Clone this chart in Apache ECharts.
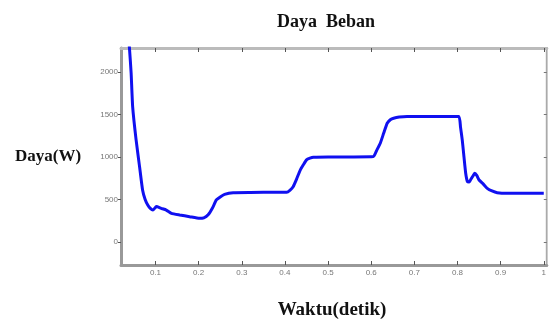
<!DOCTYPE html>
<html>
<head>
<meta charset="utf-8">
<script src="https://cdn.jsdelivr.net/npm/echarts@6/dist/echarts.min.js"></script>
<style>html,body{margin:0;padding:0;background:#fff;}#c{width:549px;height:320px;}</style>
</head>
<body>
<div id="c"></div>
<script>
var titleText = 'Daya  Beban';
var xName = 'Waktu(detik)';
var yName = 'Daya(W)';
var xTicks = [0.1, 0.2, 0.3, 0.4, 0.5, 0.6, 0.7, 0.8, 0.9, 1];
var xTickLabels = ['0.1', '0.2', '0.3', '0.4', '0.5', '0.6', '0.7', '0.8', '0.9', '1'];
var yTicks = [0, 500, 1000, 1500, 2000];
var time = [0.030,0.036,0.040,0.0435,0.047,0.055,0.063,0.070,0.076,0.082,0.088,0.094,0.102,0.113,0.125,0.137,0.156,0.179,0.202,0.212,0.222,0.232,0.241,0.250,0.260,0.280,0.320,0.380,0.404,0.412,0.419,0.427,0.435,0.443,0.450,0.458,0.466,0.500,0.560,0.605,0.613,0.621,0.629,0.637,0.645,0.652,0.665,0.683,0.750,0.803,0.807,0.811,0.815,0.819,0.823,0.827,0.830,0.835,0.840,0.845,0.850,0.860,0.869,0.880,0.892,0.916,0.950,1.0];
var power = [2700,2500,2250,1985,1592,1200,886,612,500,435,395,376,416,396,376,337,318,298,278,285,320,400,494,530,560,580,583,584,584,610,650,740,840,910,965,985,996,1000,1000,1004,1080,1161,1280,1396,1440,1455,1468,1475,1475,1475,1350,1200,1000,808,710,705,729,770,808,780,729,680,631,600,580,573,573,573];

var data = time.map(function (t, i) { return [t, power[i]]; });
var chart = echarts.init(document.getElementById('c'));
var serif = '"Liberation Serif", "DejaVu Serif", serif';
var lblColor = '#777', lblSize = 8, lblFont = '"Liberation Sans", Arial, sans-serif';
chart.setOption({
  animation: false,
  backgroundColor: '#fff',
  title: [
    { text: titleText, left: 321, top: 8, textAlign: 'center',
      textStyle: { fontFamily: serif, fontWeight: 'bold', fontSize: 18, color: '#111' } },
    { text: yName, left: 10, top: 143,
      textStyle: { fontFamily: serif, fontWeight: 'bold', fontSize: 17, color: '#111' } },
    { text: xName, left: 327, top: 296, textAlign: 'center',
      textStyle: { fontFamily: serif, fontWeight: 'bold', fontSize: 19, color: '#111' } }
  ],
  grid: { left: 121, right: 2, top: 48, bottom: 55, show: true, borderColor: '#aaa', borderWidth: 2, backgroundColor: '#fff' },
  xAxis: [
    { type: 'value', min: 0.02, max: 1.007, position: 'bottom',
      axisLine: { show: true, onZero: false, lineStyle: { color: '#999', width: 3 } },
      splitLine: { show: false },
      axisTick: { show: true, inside: true, length: 4, customValues: xTicks, lineStyle: { color: '#555' } },
      axisLabel: { show: true, margin: 4, customValues: xTicks, formatter: function (v) { var i = xTicks.indexOf(v); return i >= 0 ? xTickLabels[i] : ''; }, color: lblColor, fontSize: lblSize, fontFamily: lblFont } },
    { type: 'value', min: 0.02, max: 1.007, position: 'top',
      axisLine: { show: true, onZero: false, lineStyle: { color: '#bbb', width: 3 } },
      splitLine: { show: false },
      axisTick: { show: true, inside: true, length: 4, customValues: xTicks, lineStyle: { color: '#555' } },
      axisLabel: { show: false } }
  ],
  yAxis: [
    { type: 'value', min: -270, max: 2280, position: 'left',
      axisLine: { show: true, onZero: false, lineStyle: { color: '#999', width: 3 } },
      splitLine: { show: false },
      axisTick: { show: true, inside: false, length: 3, customValues: yTicks, lineStyle: { color: '#555' } },
      axisLabel: { show: true, margin: 3, customValues: yTicks, formatter: function (v) { return String(v); }, color: lblColor, fontSize: lblSize, fontFamily: lblFont } },
    { type: 'value', min: -270, max: 2280, position: 'right',
      axisLine: { show: true, onZero: false, lineStyle: { color: '#ccc', width: 1 } },
      splitLine: { show: false },
      axisTick: { show: true, inside: true, length: 3, customValues: yTicks, lineStyle: { color: '#777' } },
      axisLabel: { show: false } }
  ],
  series: [{
    type: 'line', data: data, showSymbol: false, smooth: 0.15, clip: true,
    lineStyle: { color: '#1010f0', width: 3 }
  }]
});
</script>
</body>
</html>
